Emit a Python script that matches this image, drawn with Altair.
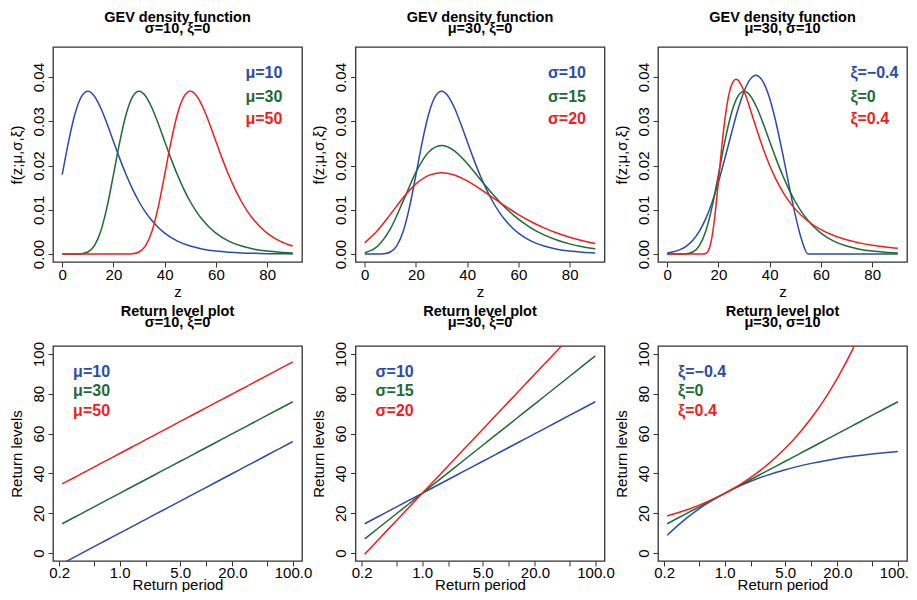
import altair as alt
import pandas as pd

FONT = "Liberation Sans"
BLUE = "#2B4BA8"
GREEN = "#1E6B33"
RED = "#F01E1E"
COLORS = [BLUE, GREEN, RED]

# ---------------- top row: GEV densities ----------------
# mu=10, sigma=10, xi=0
z_mu10 = [0, 2.5, 5, 7.5, 10, 12.5, 15, 17.5, 20, 22.5, 25, 27.5, 30, 32.5, 35, 37.5, 40,
          45, 50, 55, 60, 65, 70, 75, 80, 85, 90]
f_mu10 = [0.017946, 0.025487, 0.031704, 0.035557, 0.036788, 0.035743, 0.033070, 0.029453,
          0.025465, 0.021513, 0.017851, 0.014606, 0.011820, 0.0094856, 0.007562, 0.0059969,
          0.004737, 0.002930, 0.0017983, 0.0010986, 0.0006693, 0.000407, 0.0002473, 0.000150,
          0.0000911, 0.0000553, 0.0000335]

# mu=30, sigma=10, xi=0 (shared by all three top panels)
z_mu30 = [0, 5, 7.5, 10, 12.5, 15, 17.5, 20, 22.5, 25, 27.5, 30, 32.5, 35, 37.5, 40, 42.5, 45,
          47.5, 50, 52.5, 55, 57.5, 60, 65, 70, 75, 80, 85, 90]
f_mu30 = [0.0, 0.00000624, 0.0000719, 0.0004567, 0.0018232, 0.005071, 0.010642, 0.017946,
          0.025487, 0.031704, 0.035557, 0.036788, 0.035743, 0.033070, 0.029453, 0.025465,
          0.021513, 0.017851, 0.014606, 0.011820, 0.0094856, 0.007562, 0.0059969, 0.004737,
          0.002930, 0.0017983, 0.0010986, 0.0006693, 0.000407, 0.0002473]

# mu=50, sigma=10, xi=0
z_mu50 = [0, 10, 20, 25, 27.5, 30, 32.5, 35, 37.5, 40, 42.5, 45, 47.5, 50, 52.5, 55, 57.5, 60,
          62.5, 65, 67.5, 70, 72.5, 75, 77.5, 80, 85, 90]
f_mu50 = [0.0, 0.0, 0.0, 0.00000624, 0.0000719, 0.0004567, 0.0018232, 0.005071, 0.010642,
          0.017946, 0.025487, 0.031704, 0.035557, 0.036788, 0.035743, 0.033070, 0.029453,
          0.025465, 0.021513, 0.017851, 0.014606, 0.011820, 0.0094856, 0.007562, 0.0059969,
          0.004737, 0.002930, 0.0017983]

# mu=30, xi=0, sigma=15 and sigma=20
z_step5 = [0, 5, 10, 15, 20, 25, 30, 35, 40, 45, 50, 55, 60, 65, 70, 75, 80, 85, 90]
f_sig15 = [0.0003045, 0.0017716, 0.0056937, 0.011964, 0.018516, 0.023045, 0.024525, 0.023333,
           0.020483, 0.016977, 0.013501, 0.010425, 0.00788, 0.005867, 0.0043213, 0.0031613,
           0.0022949, 0.0016611, 0.0011989]
f_sig20 = [0.0025355, 0.005321, 0.008973, 0.012744, 0.015852, 0.017779, 0.018394, 0.017872,
           0.016535, 0.014727, 0.012733, 0.010757, 0.008926, 0.007303, 0.00591, 0.004743,
           0.003781, 0.0029985, 0.0023685]

# mu=30, sigma=10, xi=-0.4
z_xineg = [0, 2.5, 5, 7.5, 10, 12.5, 15, 17.5, 20, 22.5, 25, 27.5, 30, 32.5, 34.62, 35, 37.5,
           40, 42.5, 45, 47.5, 50, 52.5, 55, 60, 70, 80, 90]
f_xineg = [0.0002488, 0.00051037, 0.00098811, 0.0018074, 0.0031266, 0.0051193, 0.0079408,
           0.011678, 0.016294, 0.021581, 0.027145, 0.03243, 0.036788, 0.039595, 0.040394,
           0.040367, 0.038869, 0.035166, 0.029627, 0.022864, 0.015641, 0.0087857, 0.0031523,
           0.0, 0.0, 0.0, 0.0, 0.0]

# mu=30, sigma=10, xi=0.4
z_xipos = [0, 5, 10, 12.5, 13.75, 15, 16.25, 17.5, 18.75, 20, 21.25, 22.5, 25, 26.85, 27.5, 30,
           32.5, 35, 37.5, 40, 42.5, 45, 47.5, 50, 55, 60, 65, 70, 75, 80, 85, 90]
f_xipos = [0.0, 0.0, 0.0, 0.0, 0.000004, 0.0001262, 0.0010391, 0.0039524, 0.009394, 0.016559,
           0.023979, 0.030396, 0.038063, 0.039496, 0.039353, 0.036788, 0.032577, 0.028025,
           0.023758, 0.020012, 0.01683, 0.014173, 0.011972, 0.010154, 0.0074067, 0.0055084,
           0.0041744, 0.0032192, 0.0025226, 0.0020054, 0.0016154, 0.0013166]

# ---------------- bottom row: return levels ----------------
ret_period = [0.2171, 0.3, 0.5, 0.7, 1, 1.5, 2, 3, 5, 7, 10, 15, 20, 30, 50, 70, 99.5]
rl_mu10 = [-5.274, -2.040, 3.069, 6.433, 10.0, 14.055, 16.931, 20.986, 26.094, 29.459, 33.026,
           37.081, 39.957, 44.012, 49.120, 52.485, 56.002]
rl_mu30 = [14.726, 17.960, 23.069, 26.433, 30.0, 34.055, 36.931, 40.986, 46.094, 49.459, 53.026,
           57.081, 59.957, 64.012, 69.120, 72.485, 76.002]
rl_mu50 = [34.726, 37.960, 43.069, 46.433, 50.0, 54.055, 56.931, 60.986, 66.094, 69.459, 73.026,
           77.081, 79.957, 84.012, 89.120, 92.485, 96.002]
rl_sig15 = [7.089, 11.940, 19.603, 24.650, 30.0, 36.082, 40.397, 46.479, 54.142, 59.189, 64.539,
            70.621, 74.936, 81.018, 88.680, 93.727, 99.002]
rl_sig20 = [-0.548, 5.921, 16.137, 22.866, 30.0, 38.109, 43.863, 51.972, 62.189, 68.918, 76.052,
            84.161, 89.915, 98.024, 108.240, 114.970, 122.003]
rl_xineg = [8.944, 14.532, 22.012, 26.166, 30.0, 33.743, 36.054, 38.890, 41.867, 43.522, 45.047,
            46.537, 47.457, 48.587, 49.772, 50.430, 51.030]
rl_xipos = [18.570, 20.445, 23.946, 26.676, 30.0, 34.402, 37.988, 43.796, 52.591, 59.450, 67.797,
            78.854, 87.861, 102.451, 124.544, 141.768, 162.426]

lab_mu = ["μ=10", "μ=30", "μ=50"]
lab_sig = ["σ=10", "σ=15", "σ=20"]
lab_xi = ["ξ=−0.4", "ξ=0", "ξ=0.4"]

titles_top = [["GEV density function", "σ=10, ξ=0"],
              ["GEV density function", "μ=30, ξ=0"],
              ["GEV density function", "μ=30, σ=10"]]
titles_bot = [["Return level plot", "σ=10, ξ=0"],
              ["Return level plot", "μ=30, ξ=0"],
              ["Return level plot", "μ=30, σ=10"]]

dens_ticks = [0, 0.01, 0.02, 0.03, 0.04]
z_ticks = [0, 20, 40, 60, 80]
rl_ticks = [0, 20, 40, 60, 80, 100]
rp_ticks = [0.2, 0.5, 1, 2, 5, 10, 20, 50, 100]

# legend anchor positions (data coordinates)
leg_x_top, leg_y_top = 71.5, [0.041, 0.0355, 0.0305]
leg_x_bot, leg_y_bot = 0.29, [91, 81.5, 71.5]

W, H = 249, 215


def frame(series):
    rows = []
    for lab, xs, ys in series:
        for a, b in zip(xs, ys):
            rows.append({"x": a, "y": b, "series": lab})
    return pd.DataFrame(rows)


def panel(df, labels, lx, ly, title, xenc, yenc):
    color = alt.Color("series:N", scale=alt.Scale(domain=labels, range=COLORS), legend=None)
    lines = alt.Chart(df).mark_line(strokeWidth=1.5, clip=True, interpolate="monotone").encode(
        x=xenc, y=yenc, color=color)
    ldf = pd.DataFrame({"x": [lx] * 3, "y": ly, "series": labels})
    texts = alt.Chart(ldf).mark_text(align="left", baseline="middle", font=FONT, fontSize=16,
                                     fontWeight="bold").encode(
        x=xenc, y=yenc, text="series:N", color=color)
    return alt.layer(lines, texts, title=alt.TitleParams(text=title)).properties(width=W, height=H)


yaxis_common = dict(labelAngle=-90, labelAlign="center", labelBaseline="bottom",
                    labelPadding=2, titlePadding=7)

x_top = alt.X("x:Q", title="z", scale=alt.Scale(domain=[-3.6, 93.6], nice=False, zero=False),
              axis=alt.Axis(values=z_ticks, format="d", titleBaseline="alphabetic", titleY=34))
y_top = alt.Y("y:Q", title="f(z;μ,σ,ξ)",
              scale=alt.Scale(domain=[-0.0018, 0.0468], nice=False, zero=False),
              axis=alt.Axis(values=dens_ticks, format=".2f", **yaxis_common))

lab_expr = "indexof([0.2, 1, 5, 20, 100], datum.value) >= 0 ? format(datum.value, '.1f') : ''"
x_bot = alt.X("x:Q", title="Return period",
              scale=alt.Scale(type="log", domain=[0.17, 127], nice=False, zero=False),
              axis=alt.Axis(values=rp_ticks, labelExpr=lab_expr, labelPadding=-1,
                            titleBaseline="alphabetic", titleY=28))
y_bot = alt.Y("y:Q", title="Return levels",
              scale=alt.Scale(domain=[-4, 104], nice=False, zero=False),
              axis=alt.Axis(values=rl_ticks, format="d", **yaxis_common))

p1 = panel(frame([(lab_mu[0], z_mu10, f_mu10), (lab_mu[1], z_mu30, f_mu30), (lab_mu[2], z_mu50, f_mu50)]),
           lab_mu, leg_x_top, leg_y_top, titles_top[0], x_top, y_top)
p2 = panel(frame([(lab_sig[0], z_mu30, f_mu30), (lab_sig[1], z_step5, f_sig15), (lab_sig[2], z_step5, f_sig20)]),
           lab_sig, leg_x_top, leg_y_top, titles_top[1], x_top, y_top)
p3 = panel(frame([(lab_xi[0], z_xineg, f_xineg), (lab_xi[1], z_mu30, f_mu30), (lab_xi[2], z_xipos, f_xipos)]),
           lab_xi, leg_x_top, leg_y_top, titles_top[2], x_top, y_top)
p4 = panel(frame([(lab_mu[0], ret_period, rl_mu10), (lab_mu[1], ret_period, rl_mu30), (lab_mu[2], ret_period, rl_mu50)]),
           lab_mu, leg_x_bot, leg_y_bot, titles_bot[0], x_bot, y_bot)
p5 = panel(frame([(lab_sig[0], ret_period, rl_mu30), (lab_sig[1], ret_period, rl_sig15), (lab_sig[2], ret_period, rl_sig20)]),
           lab_sig, leg_x_bot, leg_y_bot, titles_bot[1], x_bot, y_bot)
p6 = panel(frame([(lab_xi[0], ret_period, rl_xineg), (lab_xi[1], ret_period, rl_mu30), (lab_xi[2], ret_period, rl_xipos)]),
           lab_xi, leg_x_bot, leg_y_bot, titles_bot[2], x_bot, y_bot)

chart = alt.concat(p1, p2, p3, p4, p5, p6, columns=3, spacing={"row": 84, "column": 53.5},
                   bounds="flush").properties(
    autosize=alt.AutoSizeParams(type="none"),
    padding={"left": 45, "top": 39, "right": 855, "bottom": 545}
).configure(font=FONT).configure_view(
    stroke="#333333", strokeWidth=1.3
).configure_axis(
    domain=False, grid=False, tickColor="#333333", tickSize=5, tickWidth=1,
    labelFont=FONT, labelFontSize=15, labelColor="black", labelPadding=0,
    titleFont=FONT, titleFontSize=15, titleFontWeight="normal", titleColor="black",
    labelFlush=False, labelOverlap=False
).configure_title(
    font=FONT, fontSize=14.5, fontWeight="bold", color="black", lineHeight=11,
    baseline="bottom", anchor="middle", frame="group", offset=10.5
)

chart.save("out.html", embed_options={"renderer": "svg", "actions": False})
